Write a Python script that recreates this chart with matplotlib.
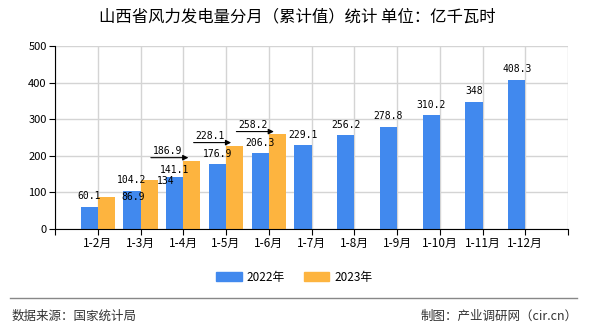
import matplotlib.pyplot as plt
from matplotlib.patches import Patch
from matplotlib.lines import Line2D

plt.rcParams['font.family'] = ['Noto Sans CJK SC', 'DejaVu Sans']

months = ["1-2月", "1-3月", "1-4月", "1-5月", "1-6月", "1-7月",
          "1-8月", "1-9月", "1-10月", "1-11月", "1-12月"]
values_2022 = [60.1, 104.2, 141.1, 176.9, 206.3, 229.1, 256.2, 278.8, 310.2, 348, 408.3]
values_2023 = [86.9, 134, 186.9, 228.1, 258.2]

blue = "#4189EE"
orange = "#FDB43F"
w = 0.4

fig = plt.figure(figsize=(5.9, 3.3), dpi=100)
ax = fig.add_axes([55 / 590, 1 - 229 / 330, 513 / 590, 183 / 330])

x22 = [i - w / 2 for i in range(len(values_2022))]
x23 = [i + w / 2 for i in range(len(values_2023))]
ax.bar(x22, values_2022, width=w, color=blue, zorder=3)
ax.bar(x23, values_2023, width=w, color=orange, zorder=3)

ax.set_xlim(-1, 11)
ax.set_ylim(0, 500)
ax.set_yticks(range(0, 501, 100))
ax.set_xticks(range(-1, 12))
ax.set_xticklabels([""] + months + [""])
ax.grid(True, color="#d4d4d4", lw=1, zorder=0)
for s in ["top", "right"]:
    ax.spines[s].set_visible(False)
for s in ["left", "bottom"]:
    ax.spines[s].set_color("black")
    ax.spines[s].set_zorder(4)
ax.tick_params(axis="both", length=4, color="black", labelsize=8, pad=2)
ax.tick_params(axis="x", labelsize=8.5)

mono = "DejaVu Sans Mono"

def fmt(v):
    return f"{v:g}"

# blue labels above bars (y offsets in points)
blue_dy = [4, 4, 1.5, 4, 4, 4, 4, 4, 4, 4, 4]
for xi, v, dy in zip(x22, values_2022, blue_dy):
    ax.annotate(fmt(v), (xi, v), xytext=(0, dy), textcoords="offset points",
                ha="center", va="bottom", fontsize=7, family=mono, zorder=5)

# orange labels: first two pushed right, next three lifted with a leader arrow
ax.annotate(fmt(values_2023[0]), (x23[0], values_2023[0]), xytext=(19, 0),
            textcoords="offset points", ha="center", va="center",
            fontsize=7, family=mono, zorder=5)
ax.annotate(fmt(values_2023[1]), (x23[1], values_2023[1]), xytext=(12, -1),
            textcoords="offset points", ha="center", va="center",
            fontsize=7, family=mono, zorder=5)
for i in range(2, 5):
    tip = (i + 0.12, values_2023[i] + 8)
    ax.annotate("", xy=tip, xytext=(-27, 0), textcoords="offset points",
                arrowprops=dict(arrowstyle="-|>", color="black", lw=0.8,
                                mutation_scale=8, shrinkA=0, shrinkB=0),
                zorder=5)
    ax.annotate(fmt(values_2023[i]), tip, xytext=(-15, 5), textcoords="offset points",
                ha="center", va="center", fontsize=7, family=mono, zorder=5)

fig.text(297 / 590, 1 - 17 / 330, "山西省风力发电量分月（累计值）统计 单位：亿千瓦时",
         ha="center", va="center", fontsize=11.8, color="black")

handles = [Patch(color=blue, label="2022年"), Patch(color=orange, label="2023年")]
fig.legend(handles=handles, loc="center", bbox_to_anchor=(294 / 590, 1 - 277 / 330),
           ncol=2, frameon=False, fontsize=8.5, handlelength=2.2, handleheight=0.9,
           columnspacing=1.6, handletextpad=0.4)

fig.add_artist(Line2D([10 / 590, 577 / 590], [1 - 298 / 330, 1 - 298 / 330],
                      color="#888888", lw=1))
fig.text(12 / 590, 1 - 316 / 330, "数据来源：国家统计局", ha="left", va="center",
         fontsize=9, color="#333333")
fig.text(578 / 590, 1 - 316 / 330, "制图：产业调研网（cir.cn）", ha="right", va="center",
         fontsize=9, color="#333333")

fig.savefig("out.png", dpi=100)
